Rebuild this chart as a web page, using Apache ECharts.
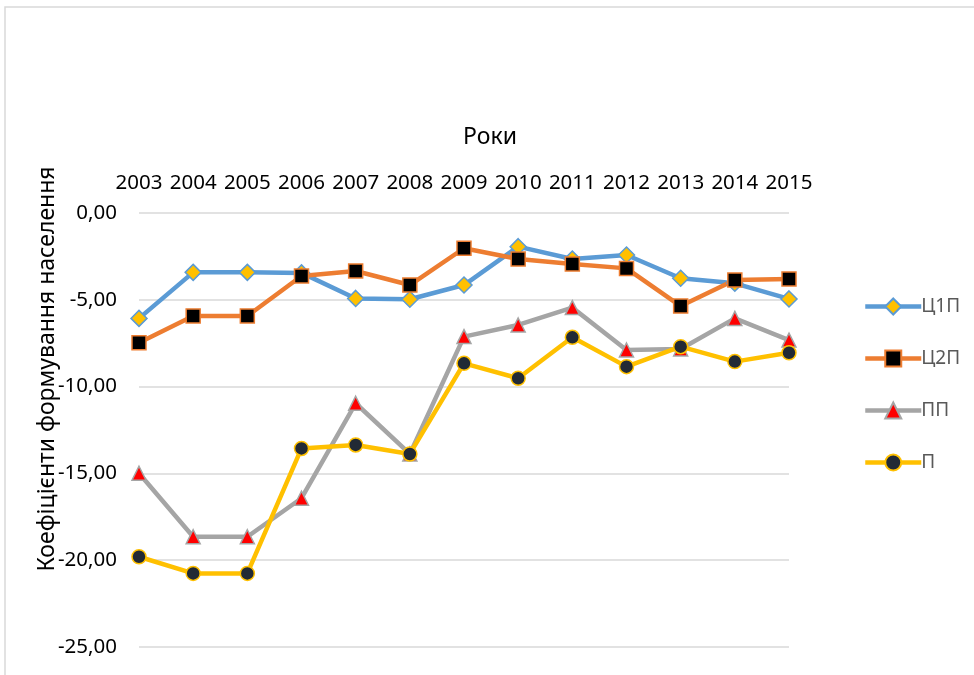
<!DOCTYPE html>
<html>
<head>
<meta charset="utf-8">
<script src="https://cdn.jsdelivr.net/npm/echarts@6/dist/echarts.min.js"></script>
<style>
    html, body { margin: 0; padding: 0; background: #fff; }
    #line-chart { width: 974px; height: 675px; }
</style>
</head>
<body>
<div id="line-chart"></div>
<script>
// дані діаграми
const years = ['2003', '2004', '2005', '2006', '2007', '2008', '2009', '2010', '2011', '2012', '2013', '2014', '2015'];
const c1p = [-6.07, -3.42, -3.42, -3.45, -4.92, -4.97, -4.15, -1.94, -2.65, -2.42, -3.76, -4.05, -4.95];
const c2p = [-7.47, -5.93, -5.93, -3.63, -3.34, -4.15, -2.03, -2.65, -2.94, -3.19, -5.36, -3.86, -3.80];
const pp = [-14.99, -18.65, -18.65, -16.43, -10.96, -13.88, -7.12, -6.45, -5.45, -7.89, -7.83, -6.07, -7.32];
const p = [-19.80, -20.76, -20.76, -13.56, -13.36, -13.88, -8.66, -9.52, -7.16, -8.85, -7.70, -8.56, -8.05];
const yTicks = [0, -5, -10, -15, -20, -25];

const font = 'Noto Sans';
const chart = echarts.init(document.getElementById('line-chart'));

const makeSeries = (name, data, lineColor, symbol, fill, size) => ({
    name: name,
    type: 'line',
    data: data,
    symbol: symbol,
    symbolSize: size,
    showAllSymbol: true,
    lineStyle: { color: lineColor, width: 4.5 },
    itemStyle: { color: fill, borderColor: lineColor, borderWidth: 1.5 },
    emphasis: { disabled: true }
});

const option = {
    animation: false,
    textStyle: { fontFamily: font },
    graphic: [
        {
            type: 'rect',
            shape: { x: 5, y: 7, width: 1000, height: 700 },
            style: { fill: 'none', stroke: '#d9d9d9', lineWidth: 1.5 },
            silent: true
        },
        {
            type: 'text',
            x: 490, y: 137,
            style: {
                text: 'Роки', fontFamily: font, fontSize: 23, fill: '#000',
                textAlign: 'center', textVerticalAlign: 'middle'
            }
        },
        {
            type: 'text',
            x: 47, y: 369,
            rotation: Math.PI / 2,
            style: {
                text: 'Коефіцієнти формування населення', fontFamily: font, fontSize: 23, fill: '#000',
                textAlign: 'center', textVerticalAlign: 'middle'
            }
        }
    ],
    legend: {
        orient: 'vertical',
        left: 858,
        top: 292,
        itemGap: 33,
        itemWidth: 56,
        itemHeight: 20,
        lineStyle: { width: 4.5 },
        textStyle: { color: '#595959', fontSize: 19, fontFamily: font, padding: [0, 0, 0, -5] },
        data: ['Ц1П', 'Ц2П', 'ПП', 'П']
    },
    grid: { left: 139, right: 185, top: 213, bottom: 28 },
    xAxis: {
        type: 'category',
        position: 'top',
        data: years,
        boundaryGap: false,
        axisLine: { show: false },
        axisTick: { show: false },
        axisLabel: { color: '#000', fontSize: 20.5, margin: 19, interval: 0 }
    },
    yAxis: {
        type: 'value',
        min: -25,
        max: 0,
        interval: 5,
        axisLine: { show: false },
        axisTick: { show: false },
        axisLabel: {
            color: '#000', fontSize: 20.5, margin: 22,
            formatter: v => yTicks.includes(v) ? v.toFixed(2).replace('.', ',') : ''
        },
        splitLine: { lineStyle: { color: '#d9d9d9', width: 1.5 } }
    },
    series: [
        makeSeries('Ц1П', c1p, '#5b9bd5', 'diamond', '#ffc000', 16),
        makeSeries('Ц2П', c2p, '#ed7d31', 'rect', '#000000', 14),
        makeSeries('ПП', pp, '#a5a5a5', 'triangle', '#ff0000', 14),
        makeSeries('П', p, '#ffc000', 'circle', '#222a35', 14)
    ]
};

chart.setOption(option);
</script>
</body>
</html>
